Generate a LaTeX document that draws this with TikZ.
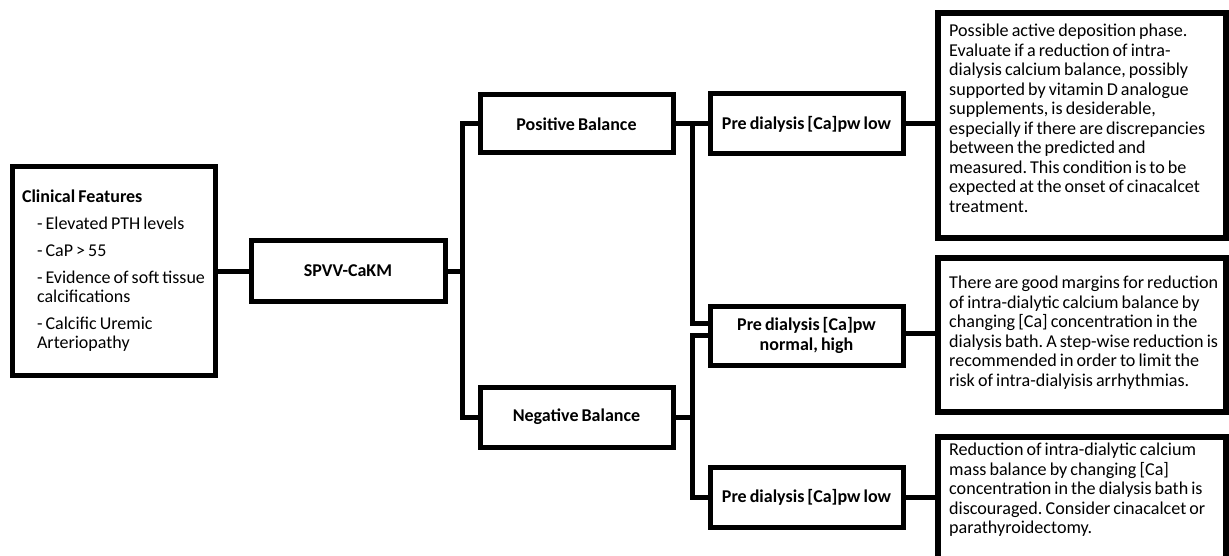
\documentclass[tikz,border=0pt]{standalone}
\usepackage{fontspec}
\setmainfont{Carlito}[WordSpace=0.75]
\frenchspacing
\begin{document}
\begin{tikzpicture}[x=1pt,y=-1pt,
  box/.style={draw, line width=5pt, rectangle, inner sep=0pt, align=center,
    font=\fontsize{18}{20}\selectfont\bfseries},
  dbox/.style={draw, line width=5.5pt, rectangle, inner sep=0pt, minimum width=288pt},
  dtext/.style={anchor=north west, inner sep=0pt, align=left,
    font=\fontsize{18.1}{19.5}\selectfont},
  conn/.style={line width=5pt}]
\useasboundingbox (0,0) rectangle (1229,556);
\fill[white] (0,0) rectangle (1229,556);

% left part
\node[box, minimum width=203pt, minimum height=208pt, align=left,
  font=\fontsize{18}{19}\selectfont] (cf) at (113.5,271)
  {\textbf{Clinical Features}\\[8pt]
   \hspace*{15pt}- Elevated PTH levels\\[8pt]
   \hspace*{15pt}- CaP > 55\\[8pt]
   \hspace*{15pt}- Evidence of soft tissue\\
   \hspace*{15pt}calcifications\\[8pt]
   \hspace*{15pt}- Calcific Uremic\\
   \hspace*{15pt}Arteriopathy};
\node[box, minimum width=194pt, minimum height=60pt] (spvv) at (348,271) {SPVV-CaKM};
\node[box, minimum width=193pt, minimum height=58pt] (pos) at (576.5,124) {Positive Balance};
\node[box, minimum width=193pt, minimum height=60pt] (neg) at (576.5,417) {Negative Balance};

% middle column
\node[box, minimum width=193pt, minimum height=60pt] (low1) at (806.5,124) {Pre dialysis [Ca]pw low};
\node[box, minimum width=193pt, minimum height=59pt] (norm) at (806.5,335.5) {Pre dialysis [Ca]pw\\normal, high};
\node[box, minimum width=193pt, minimum height=60pt] (low2) at (806.5,497) {Pre dialysis [Ca]pw low};

% detail boxes
\node[dbox, minimum height=225pt] (d1) at (1082,125.5) {};
\node[dtext] (d1t) at (949,24)
  {Possible active deposition phase.\\
   Evaluate if a reduction of intra-\\
   dialysis calcium balance, possibly\\
   supported by vitamin D analogue\\
   supplements, is desiderable,\\
   especially if there are discrepancies\\
   between the predicted and\\
   measured. This condition is to be\\
   expected at the onset of cinacalcet\\
   treatment.};
\node[dbox, minimum height=154pt] (d2) at (1082,335) {};
\node[dtext] (d2t) at (949,276)
  {There are good margins for reduction\\
   of intra-dialytic calcium balance by\\
   changing [Ca] concentration in the\\
   dialysis bath. A step-wise reduction is\\
   recommended in order to limit the\\
   risk of intra-dialyisis arrhythmias.};
\node[dbox, minimum height=130pt] (d3) at (1082,502) {};
\node[dtext] (d3t) at (949,443)
  {Reduction of intra-dialytic calcium\\
   mass balance by changing [Ca]\\
   concentration in the dialysis bath is\\
   discouraged. Consider cinacalcet or\\
   parathyroidectomy.};

% junctions
\coordinate (j1) at (462,271);
\coordinate (j2) at (692,124);
\coordinate (j3) at (692,417);

% connectors
\draw[conn] (cf.east) -- (spvv.west);
\draw[conn] (spvv.east) -- (j1);
\draw[conn] (pos.west) -| (j1) |- (neg.west);
\draw[conn] (pos.east) -- (low1.west);
\draw[conn] (j2) |- ([yshift=12pt]norm.west);
\draw[conn] (neg.east) -- (j3);
\draw[conn] (low2.west) -| (j3) |- (norm.west);
\draw[conn] (low1.east) -- (low1.east -| d1.west);
\draw[conn] ([yshift=2pt]norm.east) -- ([yshift=2pt]norm.east -| d2.west);
\draw[conn] (low2.east) -- (low2.east -| d3.west);
\end{tikzpicture}
\end{document}
